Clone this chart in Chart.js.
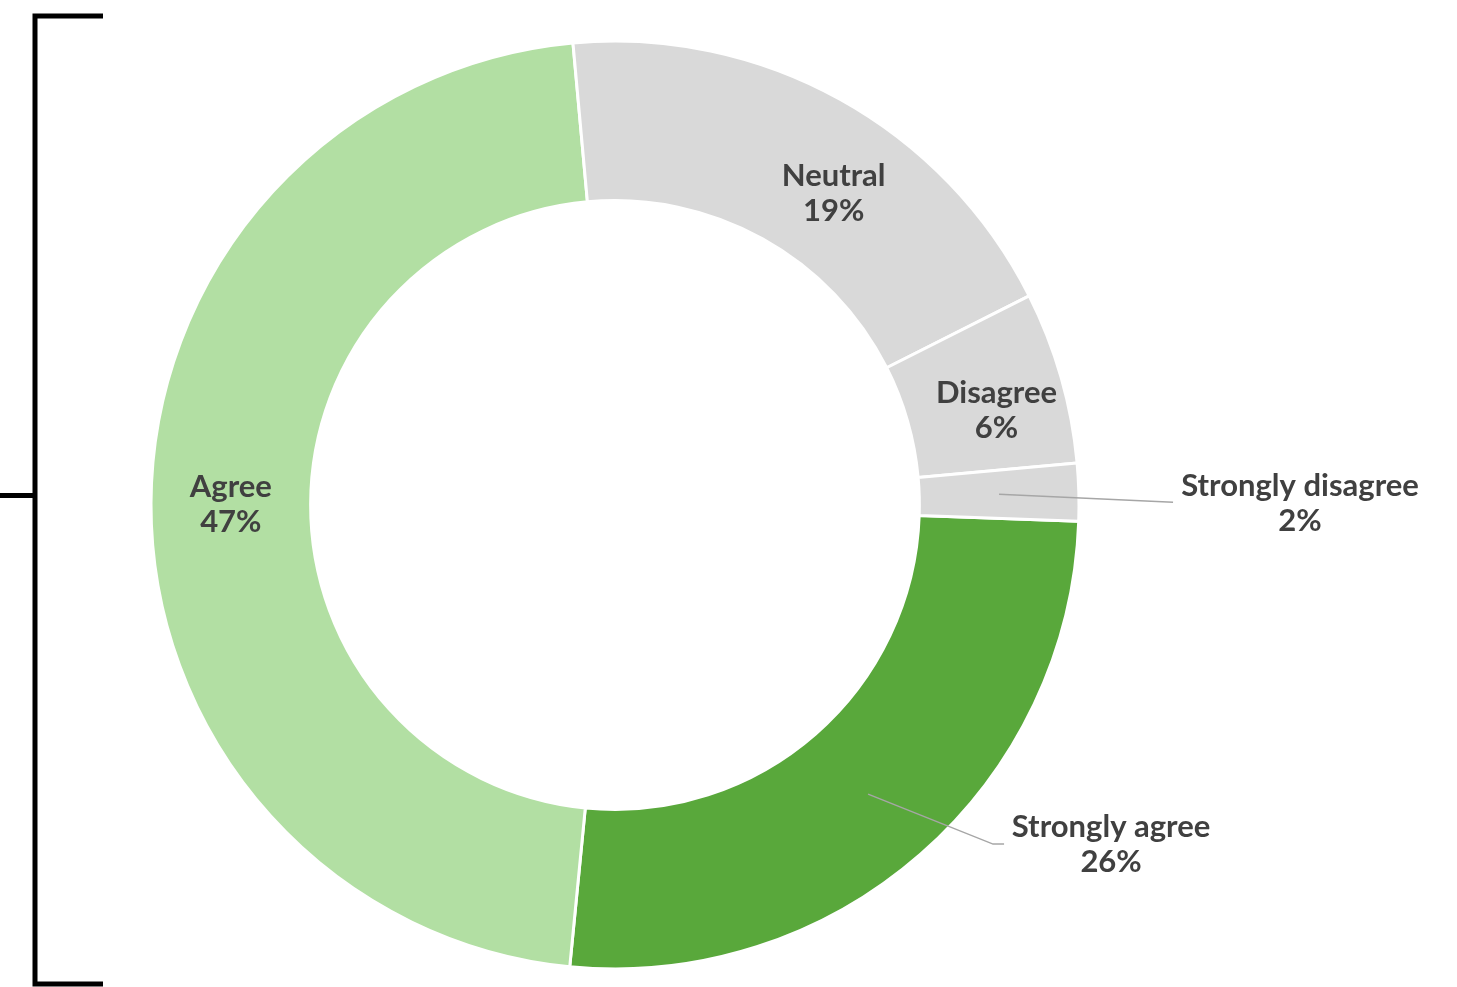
<!DOCTYPE html>
<html>
<head>
<meta charset="utf-8">
<script src="https://cdn.jsdelivr.net/npm/chart.js@4.4.1/dist/chart.umd.min.js"></script>
<style>
  html, body { margin: 0; padding: 0; background: #ffffff; }
  #wrap { width: 1457px; height: 987px; position: relative; }
</style>
</head>
<body>
<div id="wrap"><canvas id="c" width="1457" height="987"></canvas></div>
<script>
const categories = ["Strongly agree", "Agree", "Neutral", "Disagree", "Strongly disagree"];
const values = [26, 47, 19, 6, 2];
const valueLabels = ["26%", "47%", "19%", "6%", "2%"];
const colors = ["#59a83b", "#b2dfa3", "#d9d9d9", "#d9d9d9", "#d9d9d9"];

// label placement styling (inside: angle/radius tweak; outside: leader + offset from anchor)
const labelStyle = [
  { outside: true, elbow: [125, 50], lineEnd: [136, 50], text: [243, 50] },
  { dAngle: 0, dr: 0 },
  { dAngle: 6, dr: -3 },
  { dAngle: 2, dr: 9 },
  { outside: true, elbow: null, lineEnd: [174, 8], text: [301, 9] }
];

const bracketPlugin = {
  id: 'bracket',
  beforeDraw(chart) {
    const ctx = chart.ctx;
    ctx.save();
    ctx.strokeStyle = '#000000';
    ctx.lineWidth = 5;
    ctx.lineCap = 'butt';
    ctx.lineJoin = 'miter';
    ctx.beginPath();
    ctx.moveTo(103, 16);
    ctx.lineTo(35, 16);
    ctx.lineTo(35, 984);
    ctx.lineTo(103, 984);
    ctx.stroke();
    ctx.beginPath();
    ctx.moveTo(0, 495.5);
    ctx.lineTo(35, 495.5);
    ctx.stroke();
    ctx.restore();
  }
};

const labelPlugin = {
  id: 'sliceLabels',
  afterDatasetsDraw(chart) {
    const ctx = chart.ctx;
    const meta = chart.getDatasetMeta(0);
    ctx.save();
    ctx.font = 'bold 31px Lato';
    ctx.fillStyle = '#404040';
    ctx.textAlign = 'center';
    ctx.textBaseline = 'middle';
    meta.data.forEach((arc, i) => {
      const p = arc.getProps(['x', 'y', 'startAngle', 'endAngle', 'innerRadius', 'outerRadius'], true);
      const st = labelStyle[i];
      const mid = (p.startAngle + p.endAngle) / 2;
      const rMid = (p.innerRadius + p.outerRadius) / 2;
      let cx, cy;
      if (st.outside) {
        const ax = p.x + Math.cos(mid) * rMid;
        const ay = p.y + Math.sin(mid) * rMid;
        ctx.save();
        ctx.strokeStyle = '#a6a6a6';
        ctx.lineWidth = 1.5;
        ctx.beginPath();
        ctx.moveTo(ax, ay);
        if (st.elbow) ctx.lineTo(ax + st.elbow[0], ay + st.elbow[1]);
        ctx.lineTo(ax + st.lineEnd[0], ay + st.lineEnd[1]);
        ctx.stroke();
        ctx.restore();
        cx = ax + st.text[0];
        cy = ay + st.text[1];
      } else {
        const a = mid + st.dAngle * Math.PI / 180;
        const r = rMid + st.dr;
        cx = p.x + Math.cos(a) * r;
        cy = p.y + Math.sin(a) * r;
      }
      ctx.fillText(categories[i], cx, cy - 17);
      ctx.fillText(valueLabels[i], cx, cy + 18);
    });
    ctx.restore();
  }
};

new Chart(document.getElementById('c'), {
  type: 'doughnut',
  data: {
    labels: categories,
    datasets: [{
      data: values,
      backgroundColor: colors,
      borderColor: '#ffffff',
      borderWidth: 3,
      hoverOffset: 0
    }]
  },
  options: {
    responsive: false,
    animation: false,
    rotation: 92,
    cutout: '65.6%',
    layout: { padding: { left: 149.5, right: 376.5, top: 39.5, bottom: 16.5 } },
    plugins: {
      legend: { display: false },
      tooltip: { enabled: false }
    }
  },
  plugins: [bracketPlugin, labelPlugin]
});
</script>
</body>
</html>
